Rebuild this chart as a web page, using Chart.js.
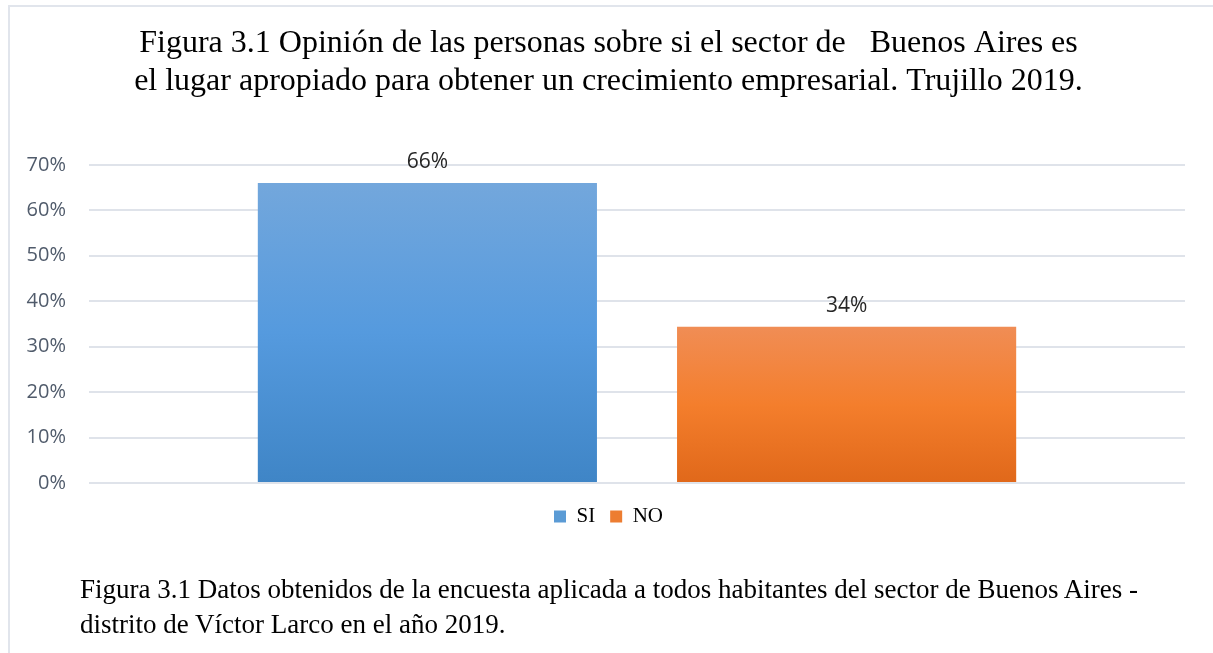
<!DOCTYPE html>
<html>
<head>
<meta charset="utf-8">
<script src="https://cdn.jsdelivr.net/npm/chart.js@4/dist/chart.umd.min.js"></script>
<style>
  html, body { margin: 0; padding: 0; background: #fff; }
  body { width: 1213px; height: 653px; position: relative; overflow: hidden; }
  .frame {
    position: absolute; left: 8px; top: 5px; right: 0; bottom: -5px;
    border-top: 2px solid #e1e5ec; border-left: 2px solid #e1e5ec;
  }
  .chart-box { position: absolute; left: 0; top: 0; width: 1213px; height: 653px; }
  .caption {
    position: absolute; left: 80px; top: 572px;
    font-family: 'Liberation Serif', 'Times New Roman', serif;
    font-size: 27px; line-height: 35px; color: #000; white-space: nowrap;
  }
</style>
</head>
<body>
<div class="frame"></div>
<div class="chart-box"><canvas id="bar-chart"></canvas></div>
<div class="caption">
  Figura 3.1 Datos obtenidos de la encuesta aplicada a todos habitantes del sector de Buenos Aires -<br>
  distrito de Víctor Larco en el año 2019.
</div>
<script>
const categories = [''];
const seriesNames = ['SI', 'NO'];
const siValues = [0.66];
const noValues = [0.344];
const yTicks = [0, 0.1, 0.2, 0.3, 0.4, 0.5, 0.6, 0.7];

const titleLines = [
  'Figura 3.1 Opinión de las personas sobre si el sector de   Buenos Aires es',
  'el lugar apropiado para obtener un crecimiento empresarial. Trujillo 2019.',
];

// excel style vertical gradients (top, middle, bottom)
const gradStops = {
  SI: ['#73a7dc', '#559ade', '#3f85c6'],
  NO: ['#f08d55', '#f47e2c', '#e0681a'],
};
const solid = { SI: '#5b9bd5', NO: '#ed7d31' };

function barGradient(name) {
  return function(ctx) {
    const chart = ctx.chart;
    if (!chart.chartArea || ctx.type !== 'data') return solid[name];
    const y = chart.scales.y;
    const top = y.getPixelForValue(ctx.raw);
    const bottom = y.getPixelForValue(0);
    const g = chart.ctx.createLinearGradient(0, top, 0, bottom);
    g.addColorStop(0, gradStops[name][0]);
    g.addColorStop(0.5, gradStops[name][1]);
    g.addColorStop(1, gradStops[name][2]);
    return g;
  };
}

// small value labels above the bars
const valueLabels = {
  id: 'valueLabels',
  afterDatasetsDraw(chart) {
    const c = chart.ctx;
    c.save();
    c.font = '21px "Open Sans", sans-serif';
    c.fillStyle = '#262626';
    c.textAlign = 'center';
    c.textBaseline = 'bottom';
    chart.data.datasets.forEach((ds, i) => {
      chart.getDatasetMeta(i).data.forEach((el, j) => {
        c.fillText(Math.round(ds.data[j] * 100) + '%', el.x, el.y - 10);
      });
    });
    c.restore();
  },
};

Chart.defaults.font.family = '"Open Sans", sans-serif';

const ctxBar = document.getElementById('bar-chart');
const config = {
  type: 'bar',
  data: {
    labels: categories,
    datasets: [
      { label: seriesNames[0], data: siValues, backgroundColor: barGradient('SI') },
      { label: seriesNames[1], data: noValues, backgroundColor: barGradient('NO') },
    ],
  },
  options: {
    responsive: true,
    maintainAspectRatio: false,
    animation: false,
    categoryPercentage: 0.765,
    barPercentage: 0.809,
    layout: { padding: { left: 22, right: 18, top: 20, bottom: 116 } },
    plugins: {
      title: {
        display: true,
        text: titleLines,
        color: '#000',
        font: { family: '"Liberation Serif", "Times New Roman", serif', size: 32, weight: 'normal', lineHeight: 1.2 },
        padding: { top: 4, bottom: 64 },
      },
      legend: {
        position: 'bottom',
        labels: {
          color: '#000',
          boxWidth: 12,
          boxHeight: 12,
          padding: 15,
          font: { family: '"Liberation Serif", "Times New Roman", serif', size: 21 },
          generateLabels: (chart) => seriesNames.map((n, i) => ({
            text: n,
            fillStyle: solid[n],
            strokeStyle: solid[n],
            lineWidth: 0,
            datasetIndex: i,
            hidden: false,
          })),
        },
      },
      tooltip: { enabled: false },
    },
    scales: {
      x: {
        grid: { display: false },
        border: { display: false },
        ticks: { display: false },
      },
      y: {
        min: 0,
        max: 0.7,
        border: { display: false },
        grid: { color: '#dfe3ea', lineWidth: 2, drawTicks: false },
        afterBuildTicks: (axis) => { axis.ticks = yTicks.map(v => ({ value: v })); },
        afterFit: (axis) => { axis.width = 67; },
        ticks: {
          padding: 23,
          color: '#505b6b',
          font: { size: 20 },
          callback: (v) => Math.round(v * 100) + '%',
        },
      },
      // empty right margin so the title and legend centre like the original
      spacer: {
        type: 'linear',
        position: 'right',
        display: true,
        grid: { display: false },
        border: { display: false },
        ticks: { display: false },
        afterFit: (axis) => { axis.width = 10; },
      },
    },
  },
  plugins: [valueLabels],
};
const myChart = new Chart(ctxBar, config);
</script>
</body>
</html>
